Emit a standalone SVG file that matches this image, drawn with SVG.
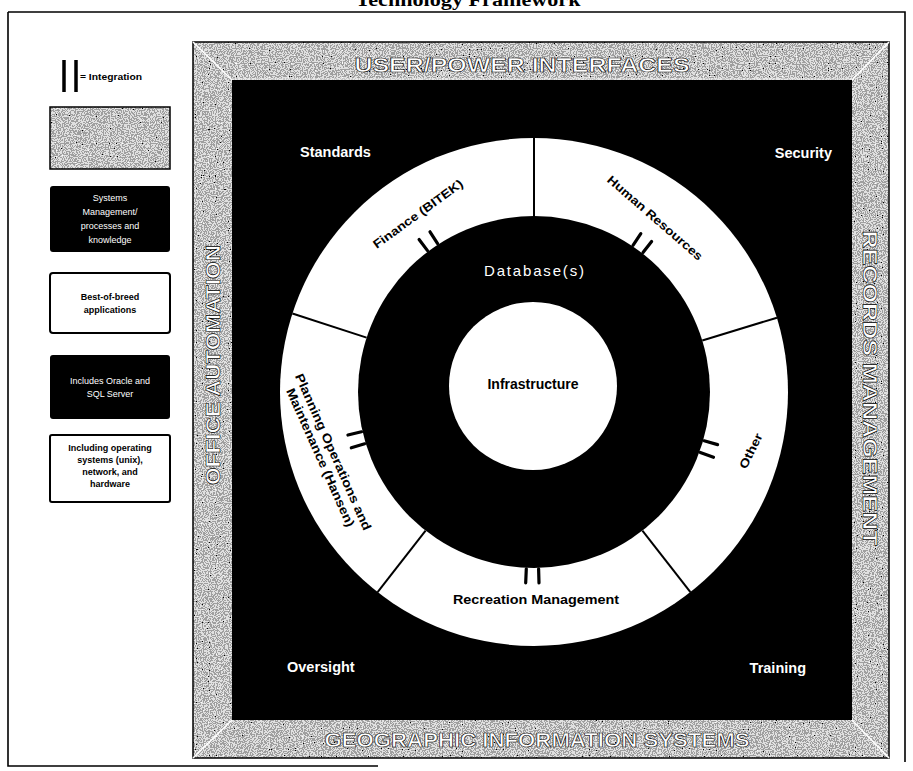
<svg xmlns="http://www.w3.org/2000/svg" width="913" height="771" viewBox="0 0 913 771">
<defs>
<filter id="noise" x="0" y="0" width="100%" height="100%">
<feTurbulence type="fractalNoise" baseFrequency="0.85" numOctaves="1" seed="7" result="t"/>
<feColorMatrix in="t" type="matrix" values="0 0 0 1 0  0 0 0 1 0  0 0 0 1 0  0 0 0 0 1" result="g"/>
<feComponentTransfer in="g" result="d"><feFuncR type="discrete" tableValues="0 0.35 0.75 1"/><feFuncG type="discrete" tableValues="0 0.35 0.75 1"/><feFuncB type="discrete" tableValues="0 0.35 0.75 1"/></feComponentTransfer>
<feComposite in="d" in2="SourceGraphic" operator="in"/>
</filter>
<style>
.lbl{font-family:"Liberation Sans",Arial,sans-serif;font-weight:bold;fill:#000}
.wlbl{font-family:"Liberation Sans",Arial,sans-serif;fill:#fff}
.brd{font-family:"Liberation Sans",Arial,sans-serif;font-weight:bold;font-size:20px;fill:#fff;stroke:#000;stroke-width:0.6}
.div{stroke:#000;stroke-width:2;fill:none}
.tick{stroke:#000;stroke-width:3.2;stroke-linecap:round;fill:none}
.leg{font-family:"Liberation Sans",Arial,sans-serif;font-size:9px;text-anchor:middle}
</style>
</defs>
<rect width="913" height="771" fill="#fff"/>
<!-- title and page frame -->
<text x="468" y="6" text-anchor="middle" font-family="Liberation Serif,serif" font-weight="bold" font-size="18" textLength="225" lengthAdjust="spacingAndGlyphs">Technology Framework</text>
<path d="M8,12 H905 V762 M8,12 V766 H378" fill="none" stroke="#000" stroke-width="1.6"/>

<!-- legend -->
<g id="legend-integration">
<line x1="64" y1="60" x2="64" y2="92" stroke="#000" stroke-width="3.5"/>
<line x1="76" y1="60" x2="76" y2="92" stroke="#000" stroke-width="3.5"/>
<text x="80" y="80" class="lbl" font-size="9.5" textLength="62" lengthAdjust="spacingAndGlyphs">= Integration</text>
</g>
<g id="legend-gray">
<rect x="50" y="107" width="120" height="62" fill="#fff" filter="url(#noise)"/>
<rect x="50" y="107" width="120" height="62" fill="none" stroke="#000" stroke-width="1.5"/>
</g>
<g id="legend-systems">
<rect x="50" y="186" width="120" height="66" rx="3" fill="#000"/>
<text class="wlbl leg" fill="#ddd"><tspan x="110" y="201">Systems</tspan><tspan x="110" y="215">Management/</tspan><tspan x="110" y="229">processes and</tspan><tspan x="110" y="243">knowledge</tspan></text>
</g>
<g id="legend-best">
<rect x="50" y="273" width="120" height="60" rx="3" fill="#fff" stroke="#000" stroke-width="2"/>
<text class="lbl leg"><tspan x="110" y="300">Best-of-breed</tspan><tspan x="110" y="313">applications</tspan></text>
</g>
<g id="legend-db">
<rect x="50" y="355" width="120" height="64" rx="3" fill="#000"/>
<text class="wlbl leg"><tspan x="110" y="384">Includes Oracle and</tspan><tspan x="110" y="397">SQL Server</tspan></text>
</g>
<g id="legend-infra">
<rect x="50" y="435" width="120" height="67" rx="2" fill="#fff" stroke="#000" stroke-width="2"/>
<text class="lbl leg"><tspan x="110" y="451">Including operating</tspan><tspan x="110" y="463">systems (unix),</tspan><tspan x="110" y="475">network, and</tspan><tspan x="110" y="487">hardware</tspan></text>
</g>

<!-- outer textured frame -->
<g id="frame">
<path d="M193,42 H889 V758 H193 Z M232,80 V720 H852 V80 Z" fill="#fff" fill-rule="evenodd" filter="url(#noise)"/>
<rect x="193" y="42" width="696" height="716" fill="none" stroke="#000" stroke-width="1.5"/>
<path d="M193,42 L232,80 M889,42 L852,80 M193,758 L232,720 M889,758 L852,720" stroke="#fff" stroke-width="1.5"/>
<path d="M232,79 H852" stroke="#eee" stroke-width="1"/>
<rect x="232" y="80" width="620" height="640" fill="#000"/>
</g>
<g id="border-top"><text x="522" y="72" class="brd" text-anchor="middle" textLength="335" lengthAdjust="spacingAndGlyphs">USER/POWER INTERFACES</text></g>
<g id="border-bottom"><text x="537" y="747" class="brd" text-anchor="middle" textLength="425" lengthAdjust="spacingAndGlyphs">GEOGRAPHIC INFORMATION SYSTEMS</text></g>
<g id="border-left"><text transform="translate(220,365) rotate(-90)" x="0" y="0" class="brd" text-anchor="middle" textLength="240" lengthAdjust="spacingAndGlyphs">OFFICE AUTOMATION</text></g>
<g id="border-right"><text transform="translate(863,388) rotate(90)" x="0" y="0" class="brd" text-anchor="middle" textLength="315" lengthAdjust="spacingAndGlyphs">RECORDS MANAGEMENT</text></g>

<!-- corner labels -->
<g id="standards"><text x="300" y="157" class="wlbl" font-size="14.5" font-weight="bold">Standards</text></g>
<g id="security"><text x="832" y="158" class="wlbl" font-size="14.5" font-weight="bold" text-anchor="end">Security</text></g>
<g id="oversight"><text x="287" y="672" class="wlbl" font-size="14.5" font-weight="bold">Oversight</text></g>
<g id="training"><text x="806" y="673" class="wlbl" font-size="14.5" font-weight="bold" text-anchor="end">Training</text></g>

<!-- ring of applications -->
<g id="ring">
<circle cx="534" cy="392" r="254" fill="#fff"/>
</g>
<g id="databases">
<circle cx="534" cy="392" r="176" fill="#000"/>
<text x="534" y="276" class="wlbl" font-size="15" text-anchor="middle" textLength="100" lengthAdjust="spacing">Database(s)</text>
</g>
<g id="infrastructure">
<circle cx="533" cy="386" r="84" fill="#fff"/>
<text x="533" y="389" class="lbl" font-size="14" text-anchor="middle">Infrastructure</text>
</g>

<g id="connectors">
<line class="div" x1="534" y1="216" x2="534" y2="138"/>
<line class="div" x1="702.3" y1="340.5" x2="777" y2="317.7"/>
<line class="div" x1="642.4" y1="530.7" x2="690.4" y2="592.2"/>
<line class="div" x1="425.6" y1="530.7" x2="377.6" y2="592.2"/>
<line class="div" x1="366.6" y1="337.6" x2="292.4" y2="313.5"/>
<!-- integration ticks -->
<line class="tick" x1="427.5" y1="250.6" x2="419.1" y2="239.5"/>
<line class="tick" x1="437.6" y1="243.6" x2="430" y2="231.8"/>
<line class="tick" x1="633" y1="245.3" x2="640.8" y2="233.7"/>
<line class="tick" x1="643" y1="252.5" x2="651.6" y2="241.5"/>
<line class="tick" x1="704.1" y1="440.8" x2="717.6" y2="444.6"/>
<line class="tick" x1="700.3" y1="452.5" x2="713.5" y2="457.3"/>
<line class="tick" x1="538.6" y1="568.9" x2="539" y2="582.9"/>
<line class="tick" x1="526.3" y1="568.8" x2="525.7" y2="582.8"/>
<line class="tick" x1="364.7" y1="443.8" x2="351.3" y2="447.8"/>
<line class="tick" x1="361.5" y1="431.8" x2="347.9" y2="435"/>
</g>

<g id="finance"><text transform="translate(418,214) rotate(-36)" x="0" y="4" class="lbl" font-size="12" text-anchor="middle" textLength="108" lengthAdjust="spacingAndGlyphs">Finance (BITEK)</text></g>
<g id="human-resources"><text transform="translate(655,218) rotate(41)" x="0" y="4" class="lbl" font-size="12" text-anchor="middle" textLength="122" lengthAdjust="spacingAndGlyphs">Human Resources</text></g>
<g id="other"><text transform="translate(751,451) rotate(-64)" x="0" y="4" class="lbl" font-size="12" text-anchor="middle" textLength="38" lengthAdjust="spacingAndGlyphs">Other</text></g>
<g id="recreation"><text x="536" y="604" class="lbl" font-size="12" text-anchor="middle" textLength="166" lengthAdjust="spacingAndGlyphs">Recreation Management</text></g>
<g id="planning"><text transform="translate(333,452) rotate(66)" class="lbl" font-size="12.5" text-anchor="middle"><tspan x="0" y="4" textLength="170" lengthAdjust="spacingAndGlyphs">Planning Operations and</tspan><tspan x="0" y="18" textLength="150" lengthAdjust="spacingAndGlyphs">Maintenance (Hansen)</tspan></text></g>
</svg>
